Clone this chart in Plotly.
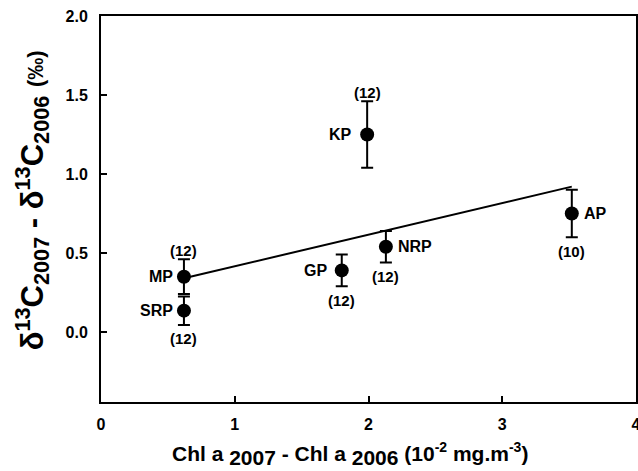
import plotly.graph_objects as go

# sites, chl a difference (x), d13C difference (y), SE and sample size
sites = ["MP", "SRP", "KP", "GP", "NRP", "AP"]
chl_diff = [0.62, 0.62, 1.99, 1.80, 2.13, 3.52]
d13c_diff = [0.35, 0.135, 1.25, 0.39, 0.54, 0.75]
d13c_err = [0.11, 0.09, 0.21, 0.10, 0.10, 0.15]
n_obs = ["(12)", "(12)", "(12)", "(12)", "(12)", "(10)"]

# regression line end points
fit_x = [0.62, 3.52]
fit_y = [0.34, 0.92]

# label placement (styling only): horizontal shift of the site name in px,
# and whether the sample size goes above or below the error bar
name_shift = {"MP": -9, "SRP": -9, "KP": -13, "GP": -13, "NRP": 10, "AP": 10}
n_above = {"MP": True, "SRP": False, "KP": True, "GP": False, "NRP": False, "AP": False}

FONT = "Liberation Sans, Arial, sans-serif"

fig = go.Figure()

fig.add_trace(go.Scatter(
    x=fit_x,
    y=fit_y,
    mode="lines",
    line=dict(color="black", width=2),
    hoverinfo="skip",
))

fig.add_trace(go.Scatter(
    x=chl_diff,
    y=d13c_diff,
    mode="markers",
    marker=dict(color="black", size=14),
    error_y=dict(type="data", array=d13c_err, color="black", thickness=2, width=6),
    text=sites,
))

for x, y, e, name, n in zip(chl_diff, d13c_diff, d13c_err, sites, n_obs):
    dx = name_shift[name]
    fig.add_annotation(
        x=x, y=y, text=f"<b>{name}</b>", showarrow=False,
        xanchor="right" if dx < 0 else "left", xshift=dx,
        font=dict(family=FONT, size=16, color="black"),
    )
    above = n_above[name]
    fig.add_annotation(
        x=x, y=y + e if above else y - e, text=f"<b>{n}</b>", showarrow=False,
        yanchor="middle", yshift=9 if above else -14,
        font=dict(family=FONT, size=15, color="black"),
    )

sub = '<sub><span style="font-size:21px">{}</span></sub>'
sup = '<sup><span style="font-size:14px">{}</span></sup>'

x_title = ("<b>Chl a " + sub.format("2007") + " - Chl a " + sub.format("2006")
           + " (10" + sup.format("-2") + " mg.m" + sup.format("-3") + ")</b>")
# two leading spaces nudge the centred title upwards, as in the original
y_title = ("<b>&nbsp;&nbsp;δ<sup>13</sup>C<sub>2007</sub> - δ<sup>13</sup>C<sub>2006</sub> "
           '<span style="font-size:22px">(‰)</span></b>')

# x title sits a little left of the plot centre in the original
fig.add_annotation(
    x=0.465, xref="paper", y=0, yref="paper",
    text=x_title, showarrow=False,
    yanchor="middle", yshift=-52,
    font=dict(family=FONT, size=21, color="black"),
)

axis_common = dict(
    ticks="inside",
    ticklen=6,
    tickwidth=2,
    tickcolor="black",
    showline=True,
    linecolor="black",
    linewidth=2,
    mirror=True,
    showgrid=False,
    zeroline=False,
    tickfont=dict(family=FONT, size=16),
    ticklabeloverflow="allow",
    automargin=False,
)

fig.update_layout(
    width=638,
    height=471,
    margin=dict(l=101, r=2, t=16, b=69),
    plot_bgcolor="white",
    paper_bgcolor="white",
    showlegend=False,
    font=dict(family=FONT, color="black"),
    xaxis=dict(
        range=[0, 4],
        tickvals=[0, 1, 2, 3, 4],
        ticktext=["<b>0</b>", "<b>1</b>", "<b>2</b>", "<b>3</b>", "<b>4</b>"],
        ticklabelstandoff=7,
        **axis_common,
    ),
    yaxis=dict(
        range=[-0.443, 2.0],
        tickvals=[0, 0.5, 1.0, 1.5, 2.0],
        ticktext=["<b>0.0</b>", "<b>0.5</b>", "<b>1.0</b>", "<b>1.5</b>", "<b>2.0</b>"],
        ticklabelstandoff=8,
        title=dict(text=y_title, font=dict(family=FONT, size=31), standoff=13),
        **axis_common,
    ),
)

fig.write_html(
    "out.html",
    config={"displayModeBar": False},
    post_script="document.body.style.margin = '0';",
)
